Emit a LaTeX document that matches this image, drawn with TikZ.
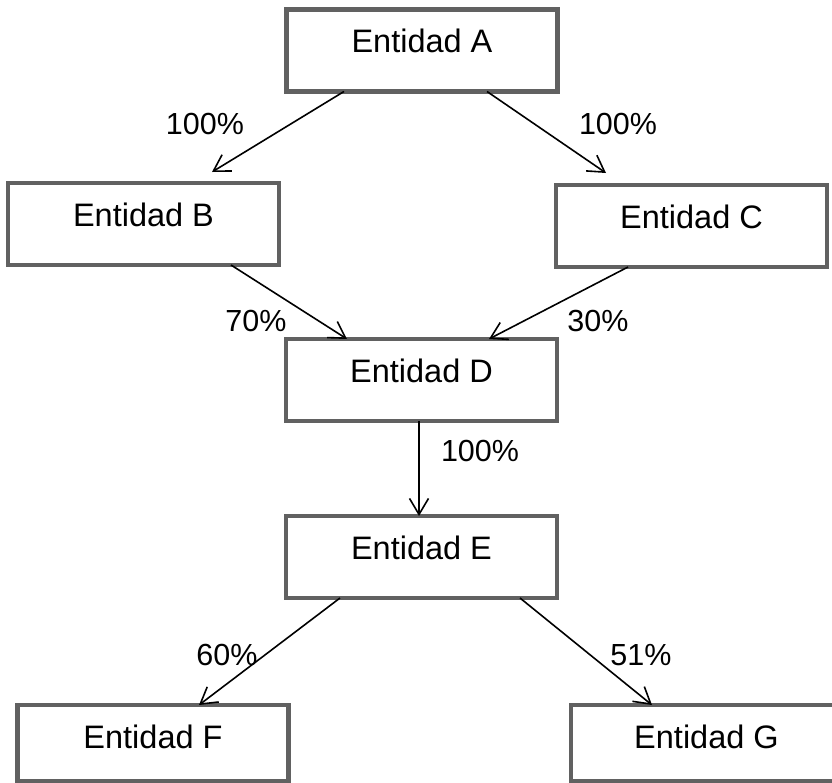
\documentclass[tikz,border=0pt]{standalone}
\usepackage{fontspec}
\setmainfont{Liberation Sans}
\usetikzlibrary{arrows.meta}

\begin{document}
\begin{tikzpicture}[x=1pt,y=-1pt,
    ent/.style={draw=black!62, line width=4.5pt, minimum width=271pt, inner sep=0pt, outer sep=0pt,
        text height=43pt, text depth=39pt, font=\fontsize{32.5}{38}\selectfont},
    pct/.style={inner sep=0pt, font=\fontsize{30.5}{36}\selectfont},
    arr/.style={black, line width=1.6pt, -{Straight Barb[length=16pt,width=19pt]}}]
    \useasboundingbox (0,0) rectangle (832,782);
    \node[ent] (A) at (422,50.5) {Entidad A};
    \node[ent] (B) at (143.5,224) {Entidad B};
    \node[ent] (C) at (691.5,226) {Entidad C};
    \node[ent] (D) at (421.5,380) {Entidad D};
    \node[ent] (E) at (421.5,557) {Entidad E};
    \node[ent,text depth=33pt] (F) at (153,743) {Entidad F};
    \node[ent,text depth=33pt] (G) at (706.5,743) {Entidad G};
    \draw[arr] ([xshift=-78pt]A.south) -- ([xshift=68.5pt,yshift=11pt]B.north);
    \node[pct] (pAB) at (205,124) {100\%};
    \draw[arr] ([xshift=65pt]A.south) -- ([xshift=-85.5pt,yshift=12pt]C.north);
    \node[pct] (pAC) at (618,124) {100\%};
    \draw[arr] ([xshift=87.5pt]B.south) -- ([xshift=-74.5pt]D.north);
    \node[pct] (pBD) at (256,321) {70\%};
    \draw[arr] ([xshift=-63.5pt]C.south) -- ([xshift=67.5pt]D.north);
    \node[pct] (pCD) at (598,321) {30\%};
    \draw[arr] ([xshift=-2.5pt]D.south) -- ([xshift=-2.5pt]E.north);
    \node[pct] (pDE) at (480,451) {100\%};
    \draw[arr] ([xshift=-81.5pt]E.south) -- ([xshift=46pt]F.north);
    \node[pct] (pEF) at (227,655) {60\%};
    \draw[arr] ([xshift=98.5pt]E.south) -- ([xshift=-54.5pt]G.north);
    \node[pct] (pEG) at (641,655) {51\%};
\end{tikzpicture}
\end{document}
